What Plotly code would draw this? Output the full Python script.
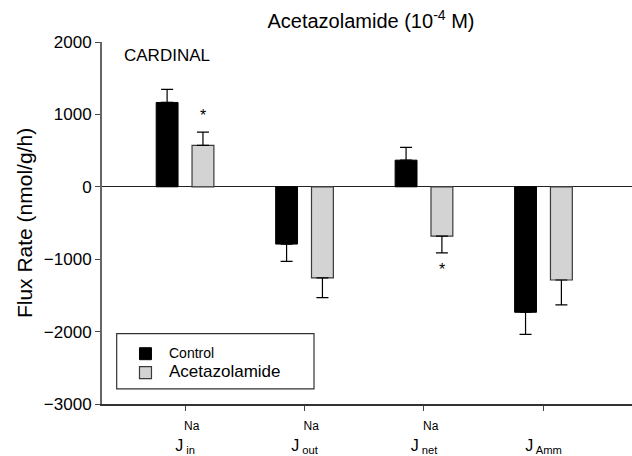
import plotly.graph_objects as go

# ---- data ----
categories = ["Jin", "Jout", "Jnet", "Jamm"]
tick_labels = [
    "<span style='font-size:12px'>\u00a0\u00a0\u00a0\u00a0Na</span><br>J<sub> in</sub>",
    "<span style='font-size:12px'>\u00a0\u00a0\u00a0\u00a0Na</span><br>J<sub> out</sub>",
    "<span style='font-size:12px'>\u00a0\u00a0\u00a0\u00a0Na</span><br>J<sub> net</sub>",
    "<span style='font-size:12px'>\u00a0</span><br>J<sub> Amm</sub>",
]
control_vals = [1165, -791, 368, -1733]
control_err = [182, 240, 177, 304]
acet_vals = [573, -1259, -682, -1287]
acet_err = [183, 273, 232, 345]
sig_acet = [True, False, True, False]   # asterisks above/below acetazolamide bars

x = list(range(len(categories)))
BARGAP = 0.4
BARGROUPGAP = 0.39


def one_sided(vals, errs):
    up = [e if v >= 0 else 0 for v, e in zip(vals, errs)]
    down = [e if v < 0 else 0 for v, e in zip(vals, errs)]
    return up, down


c_up, c_dn = one_sided(control_vals, control_err)
a_up, a_dn = one_sided(acet_vals, acet_err)

FONT = "Liberation Sans, Arial, Helvetica, sans-serif"

fig = go.Figure()
fig.add_trace(go.Bar(
    x=x, y=control_vals, name="<span style='font-size:14px'>Control</span>",
    marker=dict(color="black", line=dict(color="black", width=1)),
    error_y=dict(type="data", array=c_up, arrayminus=c_dn, symmetric=False,
                 color="black", thickness=1.2, width=6),
))
fig.add_trace(go.Bar(
    x=x, y=acet_vals, name="<span style='font-size:17px'>Acetazolamide</span>",
    marker=dict(color="#d2d3d2", line=dict(color="#3a3a3a", width=1.2)),
    error_y=dict(type="data", array=a_up, arrayminus=a_dn, symmetric=False,
                 color="black", thickness=1.2, width=6),
))

# significance asterisks
slot = (1 - BARGAP) / 2
for i, (v, e, s) in enumerate(zip(acet_vals, acet_err, sig_acet)):
    if s:
        sign = 1 if v >= 0 else -1
        fig.add_annotation(x=i + slot / 2, y=v + sign * (e + 230), xref="x", yref="y",
                           text="*", showarrow=False, font=dict(size=16, color="black"),
                           yanchor="middle")

fig.add_annotation(text="CARDINAL", xref="paper", yref="paper", x=0.038, y=0.962,
                   xanchor="left", yanchor="middle", showarrow=False,
                   font=dict(size=17, color="black"))

# legend frame
fig.add_shape(type="rect", xref="paper", yref="paper", x0=0.0277, x1=0.40,
              y0=0.0418, y1=0.1946, line=dict(color="#333", width=1.2),
              fillcolor="white", layer="below")

fig.update_layout(
    width=632, height=456,
    margin=dict(l=102, r=0, t=42, b=48),
    paper_bgcolor="white", plot_bgcolor="white",
    font=dict(family=FONT, color="black", size=16),
    title=dict(text="Acetazolamide (10<sup>-4</sup> M)", x=0.587, xanchor="center",
               xref="container", y=0.954, yanchor="middle", font=dict(size=20)),
    barmode="group", bargap=BARGAP, bargroupgap=BARGROUPGAP,
    showlegend=True,
    legend=dict(x=0.0377, y=0.179, xanchor="left", yanchor="top",
                borderwidth=0, bgcolor="rgba(0,0,0,0)", itemwidth=37,
                font=dict(size=12), traceorder="normal"),
)
fig.update_xaxes(
    range=[-0.695, 3.741], tickmode="array", tickvals=x, ticktext=tick_labels,
    showline=True, linecolor="#333", linewidth=1.5, ticks="outside", ticklen=5,
    tickcolor="#444", showgrid=False, zeroline=False, tickfont=dict(size=16),
)
fig.update_yaxes(
    range=[-3000, 2000], tickvals=[2000, 1000, 0, -1000, -2000, -3000],
    showline=True, linecolor="#666", linewidth=2, ticks="outside", ticklen=5,
    tickcolor="#444", showgrid=False, zeroline=True, zerolinecolor="#222",
    zerolinewidth=1.2, tickfont=dict(size=17),
    title=dict(text="\u00a0" * 6 + "Flux Rate (nmol/g/h)", font=dict(size=21), standoff=5),
)

fig.write_html("out.html")
